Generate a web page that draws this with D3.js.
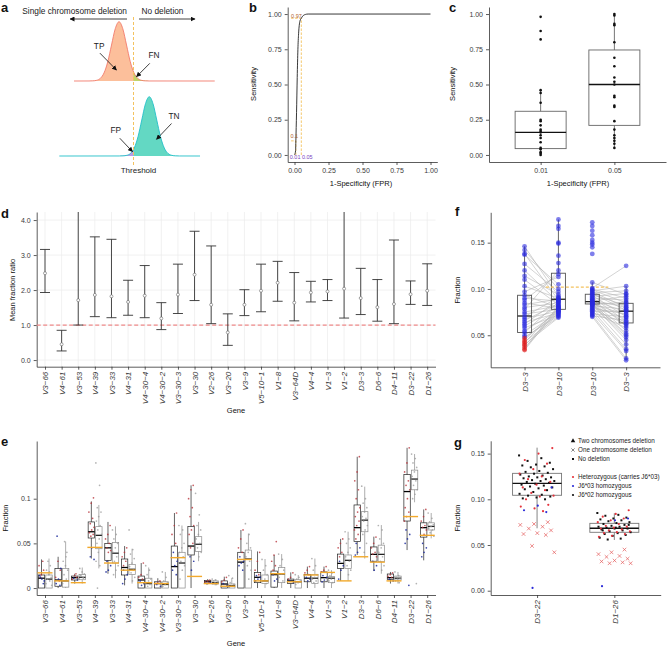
<!DOCTYPE html>
<html><head><meta charset="utf-8">
<script src="https://cdn.jsdelivr.net/npm/d3@7"></script>
<style>
body{margin:0;background:#fff;}
</style></head><body><svg id="fig" width="668" height="648"></svg>
<script>
// ================= DATA =================
// panel a: standard-normal shape (offset in sd, relative height)
const aNormOffsets = [-4,-3.5,-3,-2.5,-2,-1.5,-1,-0.5,0,0.5,1,1.5,2,2.5,3,3.5,4];
const aNormHeights = [0.0003,0.0022,0.0111,0.0439,0.1353,0.3247,0.6065,0.8825,1,0.8825,0.6065,0.3247,0.1353,0.0439,0.0111,0.0022,0.0003];
const aCentres = [-1.93, 2.1];           // single deletion, no deletion (threshold at 0)
const aLabels = ["TP","FN","TN","FP"];

// panel b: ROC curve
const rocFPR = [0,0.008,0.01,0.015,0.02,0.025,0.03,0.035,0.04,0.05,0.06,0.08,0.1,1];
const rocTPR = [0,0.03,0.1,0.3,0.55,0.75,0.86,0.92,0.95,0.97,0.985,0.997,1,1];
const rocMarks = [0.01,0.05];
const rocMarkSens = [0.1,0.97];

// panel c
const cCats = ["0.01","0.05"];
const cPts001 = [0.98,0.88,0.82,0.46,0.44,0.37,0.25,0.24,0.21,0.18,0.17,0.16,0.14,0.12,0.09,0.05,0.04,0.02,0.01,0.0];
const cPts005 = [1.0,0.99,0.93,0.92,0.80,0.69,0.63,0.55,0.52,0.50,0.42,0.41,0.35,0.34,0.24,0.18,0.14,0.12,0.10,0.08,0.05];
const cBox001 = [0, 0.045, 0.16, 0.31, 0.46];
const cBox005 = [0.05, 0.21, 0.50, 0.745, 1.0];

// panels d & e genes
const genes = ["V3-66","V4-61","V3-53","V4-39","V3-33","V4-31","V4-30-4","V4-30-2","V3-30-3","V3-30","V2-26","V3-20","V3-9","V5-10-1","V1-8","V3-64D","V4-4","V1-3","V1-2","D3-3","D6-6","D4-11","D3-22","D1-26"];
const dMean = [2.48,0.45,1.71,1.86,1.82,1.66,1.84,1.19,1.87,2.44,1.58,0.79,1.58,1.98,2.21,1.64,1.93,1.96,2.04,1.77,1.51,1.60,1.88,1.98];
const dLow  = [1.93,0.26,1.00,1.24,1.21,1.28,1.21,0.87,1.33,1.70,1.04,0.42,1.27,1.38,1.68,1.12,1.66,1.70,1.20,1.30,1.11,1.04,1.59,1.56];
const dHigh = [3.16,0.85,4.60,3.52,3.45,2.28,2.70,1.64,2.74,3.68,3.26,1.32,2.01,2.74,2.82,2.50,2.25,2.30,4.60,2.62,2.30,3.43,2.26,2.75];

// panel e box stats [low whisker, Q1, median, Q3, high whisker]
const eBoxLeft = [
 [0,0,0.011,0.0146,0.032],[0,0.002,0.009,0.022,0.035],[0.005,0.009,0.0116,0.0134,0.016],[0.033,0.056,0.063,0.074,0.097],
 [0.016,0.031,0.045,0.050,0.074],[0.003,0.0146,0.023,0.0325,0.047],[0,0,0.009,0.0134,0.028],[0,0,0.005,0.007,0.011],
 [0,0,0.024,0.047,0.084],[0,0.037,0.047,0.069,0.115],[0.004,0.005,0.007,0.0086,0.01],[0,0,0.0045,0.008,0.0127],
 [0,0,0.029,0.040,0.065],[0,0.006,0.012,0.0175,0.041],[0,0.001,0.015,0.019,0.037],[0,0.005,0.008,0.010,0.0175],
 [0,0.007,0.011,0.015,0.024],[0,0.007,0.0116,0.018,0.024],[0.008,0.022,0.0276,0.038,0.055],[0.037,0.052,0.0676,0.093,0.147],
 [0.019,0.030,0.0377,0.046,0.0575],[0.005,0.0097,0.0116,0.0157,0.018],[0.0425,0.075,0.108,0.127,0.157],[0.031,0.057,0.0676,0.073,0.088]];
const eBoxRight = [
 [0,0,0.010,0.0146,0.033],[0,0.001,0.008,0.022,0.052],[0.005,0.0093,0.012,0.0153,0.023],[0.022,0.044,0.059,0.0687,0.093],
 [0.011,0.028,0.039,0.051,0.069],[0.005,0.015,0.021,0.0265,0.044],[0,0,0.005,0.011,0.023],[0,0,0.004,0.007,0.018],
 [0,0,0.028,0.040,0.070],[0.030,0.041,0.049,0.0575,0.074],[0.003,0.0045,0.006,0.008,0.01],[0,0,0.0026,0.0045,0.011],
 [0,0,0.0325,0.0425,0.061],[0,0.005,0.008,0.0146,0.0325],[0,0.006,0.0157,0.023,0.038],[0,0,0.007,0.0093,0.0146],
 [0,0.005,0.011,0.015,0.033],[0,0.006,0.011,0.0127,0.020],[0.008,0.022,0.031,0.037,0.063],[0.033,0.063,0.076,0.0855,0.1135],
 [0.016,0.0295,0.0377,0.048,0.0705],[0.005,0.009,0.011,0.0134,0.018],[0.096,0.110,0.122,0.132,0.150],[0.0556,0.065,0.069,0.073,0.084]];
const eExpected = [0.017,0.008,0.006,0.0455,0.028,0.020,0.006,0.005,0.034,0.013,0.005,0.002,0.032,0.008,0.016,0.007,0.0146,0.0175,0.008,0.035,0.029,0.008,0.080,0.059];
const eRedPts = [
 [0.02,0.015,0.025,0.03,0.012],[0.02,0.03,0.012,0.008],[0.012,0.014,0.01,0.016],[0.101,0.095,0.085,0.078,0.072,0.068,0.065,0.062,0.06,0.058],
 [0.07,0.06,0.055,0.05,0.045,0.042,0.04],[0.045,0.04,0.035,0.03,0.025],[0.028,0.015,0.012,0.01],[0.008,0.006,0.005],
 [0.084,0.07,0.06,0.05],[0.115,0.11,0.1,0.09,0.08,0.07,0.065,0.06,0.05,0.045],[0.009,0.008,0.007,0.006],[0.012,0.009,0.007],
 [0.065,0.055,0.045,0.04],[0.04,0.03,0.02,0.015],[0.052,0.037,0.03,0.025,0.02],[0.017,0.012,0.01],
 [0.024,0.02,0.017,0.015],[0.024,0.02,0.018],[0.055,0.05,0.045,0.04,0.035],[0.147,0.13,0.12,0.11,0.1,0.09,0.085,0.08,0.075,0.07,0.065,0.06,0.055],
 [0.057,0.05,0.045,0.04,0.038,0.035],[0.017,0.015,0.013,0.012],[0.157,0.14,0.13,0.12,0.115,0.11,0.1,0.09,0.085,0.08,0.075],[0.088,0.08,0.075,0.07,0.068,0.065,0.06]];
const eBluePts = [
 [0.012,0.008,0.01,0.014,0.005],[0.058,0.022,0.01,0.005,0.003],[0.011,0.009],[0.035,0.032,0.045],
 [0.03,0.025,0.02,0.018],[0.02,0.015,0.01,0.005],[0.008,0.005,0.003],[0.004,0.002],
 [0.04,0.03,0.025,0.02,0.015],[0.035,0.03,0.02],[0.005,0.006],[0.005,0.003],
 [0.035,0.03,0.028,0.025,0.02],[0.014,0.012,0.01,0.008],[0.015,0.01,0.008],[0.008,0.006],
 [0.012,0.01,0.008],[0.014,0.012,0.009,0.007],[0.03,0.025,0.02,0.01],[0.05,0.045,0.04,0.037],
 [0.03,0.025,0.02],[0.01,0.008],[0.065,0.06,0.055,0.05,0.003],[0.05,0.045,0.04,0.035]];
const eGrayPts = [
 [0.005,0.008,0.01,0.012,0.015,0.02,0.025,0.03,0.003,0.018],[0.005,0.01,0.015,0.02,0.025,0.03,0.04,0.052,0.008,0.035],
 [0.01,0.012,0.014,0.016,0.018,0.022,0.011,0.013],[0.14,0.115,0.09,0.085,0.08,0.075,0.07,0.065,0.06,0.055,0.05,0.045,0.04,0.03,0.025,0],
 [0.065,0.06,0.055,0.05,0.045,0.04,0.035,0.03,0.025,0.02,0.015],[0.065,0.043,0.038,0.033,0.028,0.024,0.02,0.017,0.012,0.008],
 [0.025,0.02,0.015,0.01,0.008,0.006,0.004,0.002],[0.018,0.012,0.008,0.006,0.004,0.002],
 [0.07,0.065,0.06,0.05,0.045,0.04,0.035,0.03,0.025,0.02,0.01],[0.106,0.082,0.07,0.065,0.06,0.055,0.05,0.045,0.04,0.035],
 [0.01,0.009,0.008,0.007,0.006,0.005,0.004],[0.014,0.011,0.006,0.004,0.002,0.001],
 [0.072,0.06,0.05,0.045,0.04,0.035,0.03,0.025,0.02,0.01],[0.032,0.025,0.02,0.015,0.01,0.008,0.005],
 [0.038,0.032,0.025,0.02,0.016,0.012,0.008],[0.015,0.012,0.01,0.008,0.006,0.004],
 [0.033,0.025,0.02,0.015,0.012,0.01,0.008,0.006],[0.02,0.017,0.014,0.012,0.01,0.008,0.006],
 [0.063,0.055,0.05,0.045,0.04,0.035,0.03,0.025,0.02,0.015],[0.114,0.1,0.095,0.09,0.085,0.08,0.078,0.075,0.07,0.065,0.06,0.05,0.04],
 [0.07,0.065,0.055,0.05,0.045,0.04,0.035,0.03,0.025,0.02],[0.018,0.014,0.012,0.011,0.01,0.008,0.006],
 [0.15,0.145,0.14,0.135,0.13,0.125,0.12,0.115,0.11,0.105,0.1,0.005],[0.084,0.078,0.074,0.071,0.069,0.067,0.065,0.062,0.058]];

// panel f
const fCats = ["D3-3","D3-10","D3-10","D3-3"];
const fPairA_D33  = [0.146,0.142,0.138,0.137,0.127,0.120,0.114,0.110,0.103,0.097,0.093,0.090,0.088,0.085,0.083,0.080,0.078,0.075,0.073,0.070,0.068,0.066,0.064,0.062,0.060,0.058,0.055,0.053,0.050,0.048,0.047,0.045,0.043,0.042,0.040,0.039,0.037,0.035,0.034];
const fPairA_D310 = [0.092,0.100,0.088,0.105,0.097,0.086,0.094,0.083,0.090,0.113,0.080,0.087,0.116,0.079,0.089,0.085,0.120,0.082,0.078,0.091,0.076,0.084,0.074,0.088,0.081,0.072,0.077,0.086,0.075,0.071,0.073,0.078,0.070,0.080,0.069,0.076,0.074,0.082,0.079];
const fPairA_deleted = [0,0,0,0,0,0,0,0,0,0,0,0,0,0,0,0,0,0,0,0,0,0,0,0,0,0,0,0,0,0,1,1,1,1,1,1,1,1,1];
const fExtraA_D310 = [0.175,0.168,0.165,0.150,0.149,0.136,0.128];
const fPairB_D310 = [0.107,0.101,0.100,0.099,0.098,0.097,0.096,0.095,0.094,0.093,0.092,0.091,0.090,0.089,0.088,0.087,0.086,0.085,0.085,0.084,0.083,0.083,0.082,0.081,0.080,0.079,0.078,0.077,0.076,0.075,0.074,0.073,0.072,0.071,0.070,0.088,0.086,0.084,0.083];
const fPairB_D33  = [0.094,0.125,0.090,0.085,0.103,0.080,0.098,0.077,0.082,0.070,0.095,0.065,0.088,0.060,0.075,0.092,0.055,0.083,0.050,0.072,0.086,0.045,0.078,0.068,0.040,0.073,0.062,0.035,0.076,0.058,0.033,0.070,0.025,0.066,0.023,0.080,0.063,0.052,0.048];
const fExtraB_D310 = [0.172,0.168,0.163,0.158,0.153,0.150,0.148,0.145,0.138];
const fBoxes = [[0.035,0.053,0.0708,0.0932,0.146],[0.069,0.078,0.0889,0.117,0.175],[0.070,0.0838,0.0863,0.0943,0.107],[0.023,0.0633,0.076,0.0845,0.103]];
const fReference = 0.102;

// panel g
const gCats = ["D3-22","D1-26"];
const gBoxes = [[0.0683,0.1044,0.1175,0.1284,0.1565],[0.0555,0.0639,0.0683,0.0737,0.0847]];
const gBlack = [
 [0.148,0.145,0.142,0.140,0.138,0.137,0.136,0.135,0.133,0.131,0.130,0.129,0.128,0.127,0.126,0.125,0.124,0.124,0.123,0.122,0.121,0.120,0.120,0.119,0.118,0.117,0.116,0.115,0.114,0.113,0.112,0.111,0.110,0.108,0.106,0.105,0.104,0.103,0.102,0.101,0.100],
 [0.085,0.083,0.082,0.080,0.079,0.078,0.077,0.076,0.075,0.074,0.073,0.072,0.071,0.070,0.070,0.069,0.068,0.068,0.067,0.066,0.065,0.064,0.063,0.062,0.061,0.060,0.058,0.057,0.056,0.072,0.069,0.066]];
const gRed = [
 [0.156,0.150,0.143,0.139,0.133,0.128,0.125,0.122,0.119,0.116,0.113,0.110,0.107,0.104,0.103,0.100,0.094,0.090,0.092,0.087],
 [0.088,0.084,0.081,0.079,0.077,0.075,0.073,0.071,0.070,0.069,0.068,0.067,0.066,0.065,0.064,0.063,0.062,0.060,0.059]];
const gRedCross = [
 [0.075,0.073,0.072,0.070,0.068,0.066,0.063,0.062,0.061,0.049,0.042],
 [0.045,0.042,0.040,0.038,0.037,0.035,0.033,0.032,0.031,0.030,0.030]];
const gBlue = [[0.113,0.093,0.088,0.086,0.003],[0.079,0.077,0.005]];
const gLegend1 = ["Two chromosomes deletion","One chromosome deletion","No deletion"];
const gLegend2 = ["Heterozygous (carries J6*03)","J6*03 homozygous","J6*02 homozygous"];

// ================= DRAW =================
const FONT = "'Liberation Sans', Arial, Helvetica, sans-serif";
const svg = d3.select("#fig").attr("font-family", FONT);
svg.append("rect").attr("width",668).attr("height",648).attr("fill","#fff");
const defs = svg.append("defs");
defs.append("marker").attr("id","arr").attr("viewBox","0 0 10 10").attr("refX",9).attr("refY",5)
  .attr("markerWidth",5).attr("markerHeight",5).attr("markerUnits","userSpaceOnUse").attr("orient","auto")
  .append("path").attr("d","M0,0 L10,5 L0,10 z").attr("fill","#111");

const dash = s => s.replace(/-/g,"\u2212");
function styleAxis(g){
  g.attr("font-family",FONT).attr("font-size",7);
  g.select(".domain").attr("stroke","#333").attr("stroke-width",0.8);
  g.selectAll(".tick line").attr("stroke","#333").attr("stroke-width",0.8);
  g.selectAll(".tick text").attr("fill","#3a3a3a");
}
function rotLabels(g, fs){
  g.selectAll(".tick text").attr("transform","rotate(-90)").attr("x",-5).attr("y",0).attr("dy","0.35em")
   .attr("text-anchor","end").style("font-style","italic").attr("font-size",fs||8);
}
function panelLabel(t,x,y){ svg.append("text").text(t).attr("x",x).attr("y",y).attr("font-weight","bold").attr("font-size",13).attr("fill","#111"); }
function yTitle(t,x,y){ svg.append("text").text(t).attr("transform",`translate(${x},${y}) rotate(-90)`).attr("text-anchor","middle").attr("font-size",7.5).attr("fill","#111"); }
function xTitle(t,x,y){ svg.append("text").text(t).attr("x",x).attr("y",y).attr("text-anchor","middle").attr("font-size",7.5).attr("fill","#111"); }
function box(g, cx, hw, s, y, stroke, med, sw){
  g.append("line").attr("x1",cx).attr("x2",cx).attr("y1",y(s[0])).attr("y2",y(s[1])).attr("stroke",stroke).attr("stroke-width",sw||0.8);
  g.append("line").attr("x1",cx).attr("x2",cx).attr("y1",y(s[3])).attr("y2",y(s[4])).attr("stroke",stroke).attr("stroke-width",sw||0.8);
  g.append("rect").attr("x",cx-hw).attr("width",2*hw).attr("y",y(s[3])).attr("height",Math.max(0.5,y(s[1])-y(s[3])))
    .attr("fill","none").attr("stroke",stroke).attr("stroke-width",sw||0.8);
  g.append("line").attr("x1",cx-hw).attr("x2",cx+hw).attr("y1",y(s[2])).attr("y2",y(s[2])).attr("stroke",med).attr("stroke-width",1.3);
}
const jit = (i, w) => (((i*0.6180339) % 1) - 0.5) * w;

// ---------- panel a ----------
panelLabel("a",1,12);
{
  const thrX = 133.5;
  const x = d3.scaleLinear().domain([0,1]).range([thrX, thrX+7.5]);
  const yT = d3.scaleLinear().domain([0,1]).range([81,21.7]);
  const yB = d3.scaleLinear().domain([0,1]).range([156,96.7]);
  const g = svg.append("g");
  const curves = [
    {c:aCentres[0], y:yT, ext:[-7.93,10.83], fill:"#fcbf9b", stroke:"#f27b6c", tail:"#bfd46a", clip:[thrX,230], id:"clipFN"},
    {c:aCentres[1], y:yB, ext:[-9.89,8.87], fill:"#63d8c3", stroke:"#22bfc8", tail:"#b99be8", clip:[40,thrX], id:"clipFP"}
  ];
  curves.forEach(cv=>{
    const pts = [[cv.ext[0],0]].concat(aNormOffsets.map((o,i)=>[cv.c+o, aNormHeights[i]])).concat([[cv.ext[1],0]]);
    const shape = aNormOffsets.map((o,i)=>[cv.c+o, aNormHeights[i]]);
    const area = d3.area().x(d=>x(d[0])).y0(cv.y(0)).y1(d=>cv.y(d[1])).curve(d3.curveMonotoneX);
    defs.append("clipPath").attr("id",cv.id).append("rect").attr("x",cv.clip[0]).attr("y",0).attr("width",cv.clip[1]-cv.clip[0]).attr("height",200);
    g.append("path").attr("d",area(shape)).attr("fill",cv.fill);
    g.append("path").attr("d",area(shape)).attr("fill",cv.tail).attr("clip-path",`url(#${cv.id})`);
    g.append("path").attr("d",d3.line().x(d=>x(d[0])).y(d=>cv.y(d[1])).curve(d3.curveMonotoneX)(pts))
      .attr("fill","none").attr("stroke",cv.stroke).attr("stroke-width",0.9);
  });
  g.append("line").attr("x1",thrX).attr("x2",thrX).attr("y1",17).attr("y2",166).attr("stroke","#f4c25e").attr("stroke-width",1).attr("stroke-dasharray","3,2");
  // header arrows
  g.append("text").text("Single chromosome deletion").attr("x",127).attr("y",13.5).attr("text-anchor","end").attr("font-size",8.3).attr("fill","#222");
  g.append("text").text("No deletion").attr("x",141.5).attr("y",13.5).attr("font-size",8.3).attr("fill","#222");
  g.append("line").attr("x1",127).attr("x2",70).attr("y1",19).attr("y2",19).attr("stroke","#111").attr("stroke-width",0.8).attr("marker-end","url(#arr)");
  g.append("line").attr("x1",139).attr("x2",195).attr("y1",19).attr("y2",19).attr("stroke","#111").attr("stroke-width",0.8).attr("marker-end","url(#arr)");
  // annotations (in curve units)
  const ann = [
    {t:aLabels[0], y:yT, tx:-4.58, ty:0.54, a:[-4.48,0.47,-2.27,0.185]},
    {t:aLabels[1], y:yT, tx:2.74, ty:0.39, a:[2.17,0.298,0.40,0.072]},
    {t:aLabels[2], y:yB, tx:5.41, ty:0.62, a:[5.07,0.548,3.07,0.282]},
    {t:aLabels[3], y:yB, tx:-2.36, ty:0.39, a:[-1.83,0.30,-0.13,0.073]}
  ];
  ann.forEach(d=>{
    g.append("text").text(d.t).attr("x",x(d.tx)).attr("y",d.y(d.ty)).attr("text-anchor","middle").attr("font-size",8.3).attr("fill","#222");
    g.append("line").attr("x1",x(d.a[0])).attr("y1",d.y(d.a[1])).attr("x2",x(d.a[2])).attr("y2",d.y(d.a[3]))
      .attr("stroke","#111").attr("stroke-width",0.8).attr("marker-end","url(#arr)");
  });
  g.append("text").text("Threshold").attr("x",thrX+5).attr("y",173).attr("text-anchor","middle").attr("font-size",8).attr("fill","#222");
}

// ---------- panel b ----------
panelLabel("b",249,12);
{
  const x = d3.scaleLinear().domain([-0.05,1.05]).range([287.7,437.3]);
  const y = d3.scaleLinear().domain([-0.05,1.05]).range([162,7]);
  const g = svg.append("g");
  g.append("g").attr("transform","translate(0,162)").call(d3.axisBottom(x).tickValues([0,0.25,0.5,0.75,1]).tickFormat(d3.format(".2f")).tickSize(3).tickSizeOuter(0)).call(styleAxis);
  g.append("g").attr("transform","translate(287.7,0)").call(d3.axisLeft(y).tickValues([0,0.25,0.5,0.75,1]).tickFormat(d3.format(".2f")).tickSize(3).tickSizeOuter(0)).call(styleAxis);
  const oc = "#f4c25e";
  rocMarks.forEach((m,i)=>{
    g.append("line").attr("x1",x(m)).attr("x2",x(m)).attr("y1",y(0)).attr("y2",y(rocMarkSens[i])).attr("stroke",oc).attr("stroke-dasharray","2.5,1.5").attr("stroke-width",0.9);
    g.append("line").attr("x1",x(-0.025)).attr("x2",x(m)).attr("y1",y(rocMarkSens[i])).attr("y2",y(rocMarkSens[i])).attr("stroke",oc).attr("stroke-dasharray","2.5,1.5").attr("stroke-width",0.9);
  });
  g.append("path").attr("d",d3.line().x((d,i)=>x(rocFPR[i])).y(d=>y(d)).curve(d3.curveMonotoneX)(rocTPR)).attr("fill","none").attr("stroke","#222").attr("stroke-width",0.9);
  g.append("text").text("0.97").attr("x",x(-0.025)).attr("y",y(0.97)).attr("font-size",5.5).attr("fill","#b0602a");
  g.append("text").text("0.1").attr("x",x(-0.03)).attr("y",y(0.12)).attr("font-size",5.5).attr("fill","#b0602a");
  g.append("text").text("0.01").attr("x",x(-0.035)).attr("y",y(0)+4.5).attr("font-size",5.5).attr("fill","#7a3fc0");
  g.append("text").text("0.05").attr("x",x(0.055)).attr("y",y(0)+4.5).attr("font-size",5.5).attr("fill","#7a3fc0");
  yTitle("Sensitivity",256,84);
  xTitle("1-Specificity (FPR)",361,186);
}

// ---------- panel c ----------
panelLabel("c",449,12);
{
  const x = d3.scalePoint().domain(cCats).range([489,666]).padding(0.7);
  const y = d3.scaleLinear().domain([-0.05,1.05]).range([162,7]);
  const g = svg.append("g");
  g.append("g").attr("transform","translate(0,162)").call(d3.axisBottom(x).tickSize(3).tickSizeOuter(0)).call(styleAxis);
  g.append("g").attr("transform","translate(489,0)").call(d3.axisLeft(y).tickValues([0,0.25,0.5,0.75,1]).tickFormat(d3.format(".2f")).tickSize(3).tickSizeOuter(0)).call(styleAxis);
  [cBox001,cBox005].forEach((s,i)=> box(g, x(cCats[i]), 25.5, s, y, "#666", "#111", 0.9));
  [cPts001,cPts005].forEach((pts,i)=> pts.forEach(v=> g.append("circle").attr("cx",x(cCats[i])).attr("cy",y(v)).attr("r",1.3).attr("fill","#111")));
  yTitle("Sensitivity",455,84);
  xTitle("1-Specificity (FPR)",578,186);
}

// ---------- panel d ----------
panelLabel("d",1,218);
const xg = d3.scalePoint().domain(genes).range([36.7,435.5]).padding(0.5);
{
  const y = d3.scaleLinear().domain([-0.19,4.23]).range([366.7,212]);
  const g = svg.append("g");
  defs.append("clipPath").attr("id","clipD").append("rect").attr("x",30).attr("y",212).attr("width",410).attr("height",155);
  [0,1,2,3,4].forEach(v=> g.append("line").attr("x1",36.7).attr("x2",435.5).attr("y1",y(v)).attr("y2",y(v)).attr("stroke","#ebebeb").attr("stroke-width",0.7));
  genes.forEach(gn=> g.append("line").attr("x1",xg(gn)).attr("x2",xg(gn)).attr("y1",212).attr("y2",366.7).attr("stroke","#ebebeb").attr("stroke-width",0.7));
  g.append("g").attr("transform","translate(0,366.7)").call(d3.axisBottom(xg).tickSize(3).tickSizeOuter(0).tickFormat(dash)).call(styleAxis).call(rotLabels);
  g.append("g").attr("transform","translate(36.7,0)").call(d3.axisLeft(y).tickValues([0,1,2,3,4]).tickSize(3).tickSizeOuter(0)).call(styleAxis);
  g.append("line").attr("x1",36.7).attr("x2",435.5).attr("y1",y(1)).attr("y2",y(1)).attr("stroke","#f08a8a").attr("stroke-width",1.3).attr("stroke-dasharray","4,2.5");
  const eb = g.append("g").attr("clip-path","url(#clipD)");
  genes.forEach((gn,i)=>{
    const cx = xg(gn);
    eb.append("line").attr("x1",cx).attr("x2",cx).attr("y1",y(dLow[i])).attr("y2",y(dHigh[i])).attr("stroke","#333").attr("stroke-width",0.9);
    [dLow[i],dHigh[i]].forEach(v=> eb.append("line").attr("x1",cx-5).attr("x2",cx+5).attr("y1",y(v)).attr("y2",y(v)).attr("stroke","#333").attr("stroke-width",0.9));
    eb.append("circle").attr("cx",cx).attr("cy",y(dMean[i])).attr("r",1.5).attr("fill","#fff").attr("stroke","#666").attr("stroke-width",0.6);
  });
  yTitle("Mean fraction ratio",15,290);
  xTitle("Gene",236,413);
}

// ---------- panel e ----------
panelLabel("e",1,446);
{
  const y = d3.scaleLinear().domain([-0.0078,0.1646]).range([595,441]);
  const g = svg.append("g");
  g.append("g").attr("transform","translate(0,595)").call(d3.axisBottom(xg).tickSize(3).tickSizeOuter(0).tickFormat(dash)).call(styleAxis).call(rotLabels);
  g.append("g").attr("transform","translate(36.7,0)").call(d3.axisLeft(y).tickValues([0,0.05,0.1]).tickFormat(d=>d===0?"0":String(d)).tickSize(3).tickSizeOuter(0)).call(styleAxis);
  genes.forEach((gn,i)=>{
    const cx = xg(gn), cl = cx-3.5, cr = cx+4;
    box(g, cl, 3.2, eBoxLeft[i], y, "#222", "#000", 0.7);
    box(g, cr, 3.2, eBoxRight[i], y, "#8a8a8a", "#222", 0.7);
    eGrayPts[i].forEach((v,k)=> g.append("circle").attr("cx",cr+jit(k,6)).attr("cy",y(v)).attr("r",0.85).attr("fill","#999").attr("opacity",0.75));
    eRedPts[i].forEach((v,k)=> g.append("circle").attr("cx",cl+jit(k+3,6)).attr("cy",y(v)).attr("r",0.85).attr("fill","#b8323a").attr("opacity",0.8));
    eBluePts[i].forEach((v,k)=> g.append("circle").attr("cx",cl+jit(k+7,6)).attr("cy",y(v)).attr("r",0.85).attr("fill","#1c2a9c").attr("opacity",0.85));
    g.append("line").attr("x1",cx-7.5).attr("x2",cx+7.5).attr("y1",y(eExpected[i])).attr("y2",y(eExpected[i])).attr("stroke","#f2a92c").attr("stroke-width",1.4);
  });
  yTitle("Fraction",8,518);
  xTitle("Gene",236,646);
}

// ---------- panel f ----------
panelLabel("f",455,216);
{
  const x = d3.scalePoint().domain(d3.range(4)).range([490.7,660]).padding(1);
  const y = d3.scaleLinear().domain([0.0154,0.1828]).range([367.3,212.3]);
  const g = svg.append("g");
  g.append("g").attr("transform","translate(0,367.3)").call(d3.axisBottom(x).tickSize(3).tickSizeOuter(0).tickFormat(i=>dash(fCats[i]))).call(styleAxis).call(rotLabels);
  g.append("g").attr("transform","translate(490.7,0)").call(d3.axisLeft(y).tickValues([0.05,0.10,0.15]).tickFormat(d3.format(".2f")).tickSize(3).tickSizeOuter(0)).call(styleAxis);
  fPairA_D33.forEach((v,i)=> g.append("line").attr("x1",x(0)).attr("x2",x(1)).attr("y1",y(v)).attr("y2",y(fPairA_D310[i])).attr("stroke","#b5b5b5").attr("stroke-width",0.6));
  fPairB_D310.forEach((v,i)=> g.append("line").attr("x1",x(2)).attr("x2",x(3)).attr("y1",y(v)).attr("y2",y(fPairB_D33[i])).attr("stroke","#b5b5b5").attr("stroke-width",0.6));
  fBoxes.forEach((s,i)=> box(g, x(i), 7, s, y, "#555", "#222", 0.9));
  g.append("line").attr("x1",x(1)-12.6).attr("x2",x(2)+16).attr("y1",y(fReference)).attr("y2",y(fReference)).attr("stroke","#f4c25e").attr("stroke-width",1.2).attr("stroke-dasharray","3,2");
  const dot = (cx,v,col)=> g.append("circle").attr("cx",cx).attr("cy",y(v)).attr("r",2.4).attr("fill",col).attr("opacity",0.6);
  fPairA_D33.forEach((v,i)=> dot(x(0),v, fPairA_deleted[i]?"#e02020":"#2a2ae0"));
  fPairA_D310.concat(fExtraA_D310).forEach(v=> dot(x(1),v,"#2a2ae0"));
  fPairB_D310.concat(fExtraB_D310).forEach(v=> dot(x(2),v,"#2a2ae0"));
  fPairB_D33.forEach(v=> dot(x(3),v,"#2a2ae0"));
  yTitle("Fraction",460,290);
}

// ---------- panel g ----------
panelLabel("g",454,447);
{
  const x = d3.scalePoint().domain(gCats).range([490.7,660.7]).padding(0.6);
  const y = d3.scaleLinear().domain([-0.0047,0.164]).range([595,440.8]);
  const g = svg.append("g");
  g.append("g").attr("transform","translate(0,595)").call(d3.axisBottom(x).tickSize(3).tickSizeOuter(0).tickFormat(dash)).call(styleAxis).call(rotLabels);
  g.append("g").attr("transform","translate(490.7,0)").call(d3.axisLeft(y).tickValues([0,0.05,0.10,0.15]).tickFormat(d3.format(".2f")).tickSize(3).tickSizeOuter(0)).call(styleAxis);
  gBoxes.forEach((s,i)=> box(g, x(gCats[i]), 24.5, s, y, "#777", "#111", 0.9));
  gCats.forEach((c,ci)=>{
    const cx = x(c), w = ci===0?36:34;
    gRedCross[ci].forEach((v,k)=>{ const px = cx+jit(k+11,w), py=y(v), s=1.8;
      g.append("path").attr("d",`M${px-s},${py-s}L${px+s},${py+s}M${px-s},${py+s}L${px+s},${py-s}`).attr("stroke","#e45a5a").attr("stroke-width",0.7); });
    gBlack[ci].forEach((v,k)=> g.append("rect").attr("x",cx+jit(k,w)-1).attr("y",y(v)-1).attr("width",2).attr("height",2).attr("fill","#111"));
    gRed[ci].forEach((v,k)=> g.append("circle").attr("cx",cx+jit(k+29,w)).attr("cy",y(v)).attr("r",1.1).attr("fill","#e5333c"));
    gBlue[ci].forEach((v,k)=> g.append("circle").attr("cx",cx+jit(k+50,w)).attr("cy",y(v)).attr("r",1.1).attr("fill","#2b2bd8"));
  });
  // legend
  const lg = svg.append("g").attr("font-size",6.3).attr("fill","#222");
  const lx = 573, tx = 578;
  gLegend1.forEach((t,i)=>{
    const ly = 441 + i*9;
    if(i===0) lg.append("path").attr("d",d3.symbol(d3.symbolTriangle,9)()).attr("transform",`translate(${lx},${ly})`).attr("fill","#111");
    if(i===1) lg.append("path").attr("d",`M${lx-1.6},${ly-1.6}L${lx+1.6},${ly+1.6}M${lx-1.6},${ly+1.6}L${lx+1.6},${ly-1.6}`).attr("stroke","#333").attr("stroke-width",0.6);
    if(i===2) lg.append("rect").attr("x",lx-1).attr("y",ly-1).attr("width",2).attr("height",2).attr("fill","#111");
    lg.append("text").text(t).attr("x",tx).attr("y",ly+2.2);
  });
  const lcols = ["#e5333c","#2b2bd8","#111"];
  gLegend2.forEach((t,i)=>{
    const ly = 477 + i*9;
    lg.append("circle").attr("cx",lx).attr("cy",ly).attr("r",1.1).attr("fill",lcols[i]);
    lg.append("text").text(t).attr("x",tx).attr("y",ly+2.2);
  });
  yTitle("Fraction",460,518);
}
</script></body></html>
